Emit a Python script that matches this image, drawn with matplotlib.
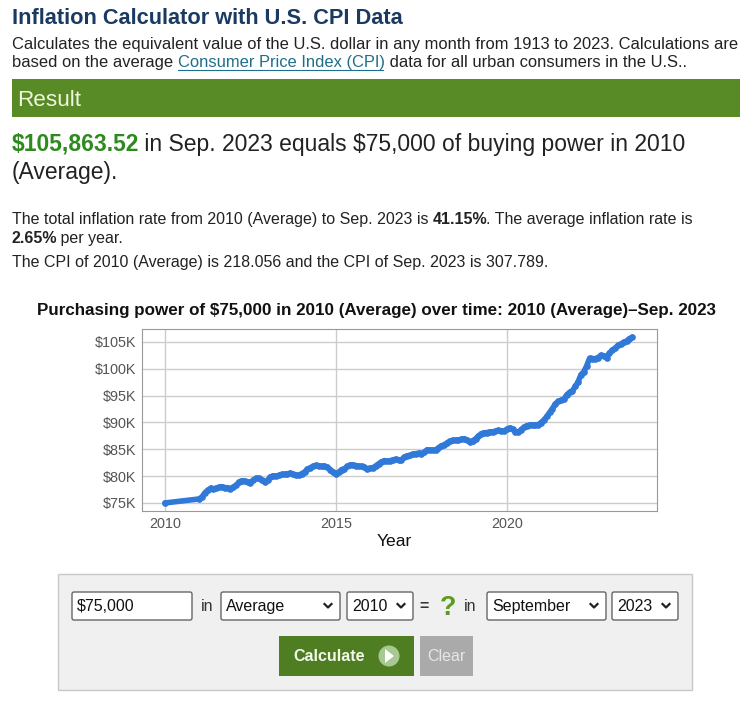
import numpy as np
import matplotlib
matplotlib.use("Agg")
import matplotlib.pyplot as plt
from matplotlib.patches import Rectangle, FancyBboxPatch, Circle, Polygon
from matplotlib.ticker import FuncFormatter

plt.rcParams['font.family'] = ['Liberation Sans', 'DejaVu Sans']

# -----------------------------------------------------------
# data: CPI-U, base = 2010 average, amount = $75,000
# -----------------------------------------------------------
amount = 75000
base_cpi = 218.056
years = list(range(2011, 2024))
cpi = {
    2011: [220.223, 221.309, 223.467, 224.906, 225.964, 225.722, 225.922, 226.545, 226.889, 226.421, 226.230, 225.672],
    2012: [226.665, 227.663, 229.392, 230.085, 229.815, 229.478, 229.104, 230.379, 231.407, 231.317, 230.221, 229.601],
    2013: [230.280, 232.166, 232.773, 232.531, 232.945, 233.504, 233.596, 233.877, 234.149, 233.546, 233.069, 233.049],
    2014: [233.916, 234.781, 236.293, 237.072, 237.900, 238.343, 238.250, 237.852, 238.031, 237.433, 236.151, 234.812],
    2015: [233.707, 234.722, 236.119, 236.599, 237.805, 238.638, 238.654, 238.316, 237.945, 237.838, 237.336, 236.525],
    2016: [236.916, 237.111, 238.132, 239.261, 240.229, 241.018, 240.628, 240.849, 241.428, 241.729, 241.353, 241.432],
    2017: [242.839, 243.603, 243.801, 244.524, 244.733, 244.955, 244.786, 245.519, 246.819, 246.663, 246.669, 246.524],
    2018: [247.867, 248.991, 249.554, 250.546, 251.588, 251.989, 252.006, 252.146, 252.439, 252.885, 252.038, 251.233],
    2019: [251.712, 252.776, 254.202, 255.548, 256.092, 256.143, 256.571, 256.558, 256.759, 257.346, 257.208, 256.974],
    2020: [257.971, 258.678, 258.115, 256.389, 256.394, 257.797, 259.101, 259.918, 260.280, 260.388, 260.229, 260.474],
    2021: [261.582, 263.014, 264.877, 267.054, 269.195, 271.696, 273.003, 273.567, 274.310, 276.589, 277.948, 278.802],
    2022: [281.148, 283.716, 287.504, 289.109, 292.296, 296.311, 296.276, 296.171, 296.808, 298.012, 297.711, 296.797],
    2023: [299.170, 300.840, 301.836, 303.363, 304.127, 305.109, 305.691, 307.026, 307.789],
}
xticks = [2010, 2015, 2020]
yticks = [75000, 80000, 85000, 90000, 95000, 100000, 105000]

t = [2010.0]
cpi_series = [base_cpi]
for yr in years:
    for m, c in enumerate(cpi[yr]):
        t.append(yr + m / 12)
        cpi_series.append(c)
t = np.array(t)
value = amount * np.array(cpi_series) / base_cpi

# -----------------------------------------------------------
# page
# -----------------------------------------------------------
W, H = 755, 710
fig = plt.figure(figsize=(W / 100, H / 100), dpi=100)
bg = fig.add_axes([0, 0, 1, 1])
bg.set_xlim(0, W)
bg.set_ylim(H, 0)
bg.axis('off')
renderer = fig.canvas.get_renderer()


def px(s):
    return s * 0.72


def run(x, y, parts, size, **kw):
    # draw text segments one after another on one line
    for txt, style in parts:
        weight = style.get('weight', 'normal')
        t_ = bg.text(x, y, txt, fontsize=px(size), va='baseline', ha='left',
                     color=style.get('color', '#222222'), fontweight=weight, **kw)
        bb = t_.get_window_extent(renderer)
        x0 = x
        x += bb.width - (1.5 if weight == 'bold' else 0)
        if style.get('underline'):
            bg.plot([x0, x - 2], [y + 2.5, y + 2.5], color=style['color'], lw=0.8)
    return x


N = {}
B = {'weight': 'bold'}
run(12, 24, [("Inflation Calculator with U.S. CPI Data", {'weight': 'bold', 'color': '#1a3a62'})], 21.8)
run(12, 49, [("Calculates the equivalent value of the U.S. dollar in any month from 1913 to 2023. Calculations are", N)], 16.5)
run(12, 67, [("based on the average ", N),
             ("Consumer Price Index (CPI)", {'color': '#1f6e8c', 'underline': True}),
             (" data for all urban consumers in the U.S..", N)], 16.5)

bg.add_patch(Rectangle((12, 79), 728, 38, facecolor='#588a25', edgecolor='none'))
run(17, 106, [("Result", {'color': '#eef6dc'})], 22.5)

run(12, 151, [("$105,863.52", {'weight': 'bold', 'color': '#2e8a1e'}),
              (" in Sep. 2023 equals $75,000 of buying power in 2010", N)], 22.9)
run(12, 179, [("(Average).", N)], 22.9)

run(12, 224, [("The total inflation rate from 2010 (Average) to Sep. 2023 is ", N),
              ("41.15%", B), (". The average inflation rate is", N)], 16)
run(12, 243, [("2.65%", B), (" per year.", N)], 16)
run(12, 267, [("The CPI of 2010 (Average) is 218.056 and the CPI of Sep. 2023 is 307.789.", N)], 16)

run(37, 315, [("Purchasing power of $75,000 in 2010 (Average) over time: 2010 (Average)\u2013Sep. 2023",
               {'weight': 'bold', 'color': '#111111'})], 17)

# -----------------------------------------------------------
# chart
# -----------------------------------------------------------
L, R, T, Bt = 142, 657, 329, 511
ax = fig.add_axes([L / W, 1 - Bt / H, (R - L) / W, (Bt - T) / H])
ax.plot(t, value, color='#3079d8', lw=4, marker='o', ms=3.8,
        solid_capstyle='round', solid_joinstyle='round')
ax.set_xlim(2009.33, 2024.39)
ax.set_ylim(73500, 107400)
ax.set_xticks(xticks)
ax.set_yticks(yticks)
ax.yaxis.set_major_formatter(FuncFormatter(lambda v, p: f"${v / 1000:.0f}K"))
ax.grid(True, color='#cccccc', lw=1)
ax.set_axisbelow(True)
ax.tick_params(length=0, labelsize=px(14.4), labelcolor='#555555', pad=4.3)
for s in ax.spines.values():
    s.set_color('#999999')
ax.set_xlabel("Year", fontsize=px(17.5), color='#111111')
ax.xaxis.label.set_va('center')
ax.xaxis.set_label_coords((394 - L) / (R - L), -(541 - Bt) / (Bt - T))

# -----------------------------------------------------------
# form
# -----------------------------------------------------------
bg.add_patch(Rectangle((58, 574), 634, 116, facecolor='#f0f0f0', edgecolor='#c8c8c8', lw=1))


def box(x0, x1, label, chevron=True):
    bg.add_patch(FancyBboxPatch((x0, 592), x1 - x0, 28, boxstyle='round,pad=0,rounding_size=2',
                                facecolor='white', edgecolor='#666666', lw=1))
    bg.text(x0 + 5, 611, label, fontsize=px(16), color='#111111', va='baseline')
    if chevron:
        cx = x1 - 12
        bg.plot([cx - 3.5, cx, cx + 3.5], [604, 607.5, 604], color='#222222', lw=1.6)


box(72, 192, "$75,000", chevron=False)
bg.text(207, 611, "in", fontsize=px(16), color='#333333', va='baseline', ha='center')
box(221, 340, "Average")
box(347, 413, "2010")
bg.text(424, 611, "=", fontsize=px(16), color='#333333', va='baseline', ha='center', fontweight='bold')
bg.text(448, 615, "?", fontsize=px(27), color='#5c9c1c', va='baseline', ha='center', fontweight='bold')
bg.text(470, 611, "in", fontsize=px(16), color='#333333', va='baseline', ha='center')
box(487, 606, "September")
box(612, 678, "2023")

bg.add_patch(Rectangle((279, 636), 135, 40, facecolor='#4e7e21', edgecolor='none'))
bg.text(329, 661, "Calculate", fontsize=px(16), color='#f2f8ea', va='baseline', ha='center',
        fontweight='bold')
bg.add_patch(Circle((389, 656), 10.5, facecolor='#a9c992', edgecolor='none'))
bg.add_patch(Polygon([[385, 649], [385, 663], [394, 656]], closed=True, facecolor='white', edgecolor='none'))
bg.add_patch(Rectangle((420, 636), 53, 40, facecolor='#aaaaaa', edgecolor='none'))
bg.text(446.5, 661, "Clear", fontsize=px(16), color='#e6e6e6', va='baseline', ha='center')

fig.savefig("out.png", dpi=100)
